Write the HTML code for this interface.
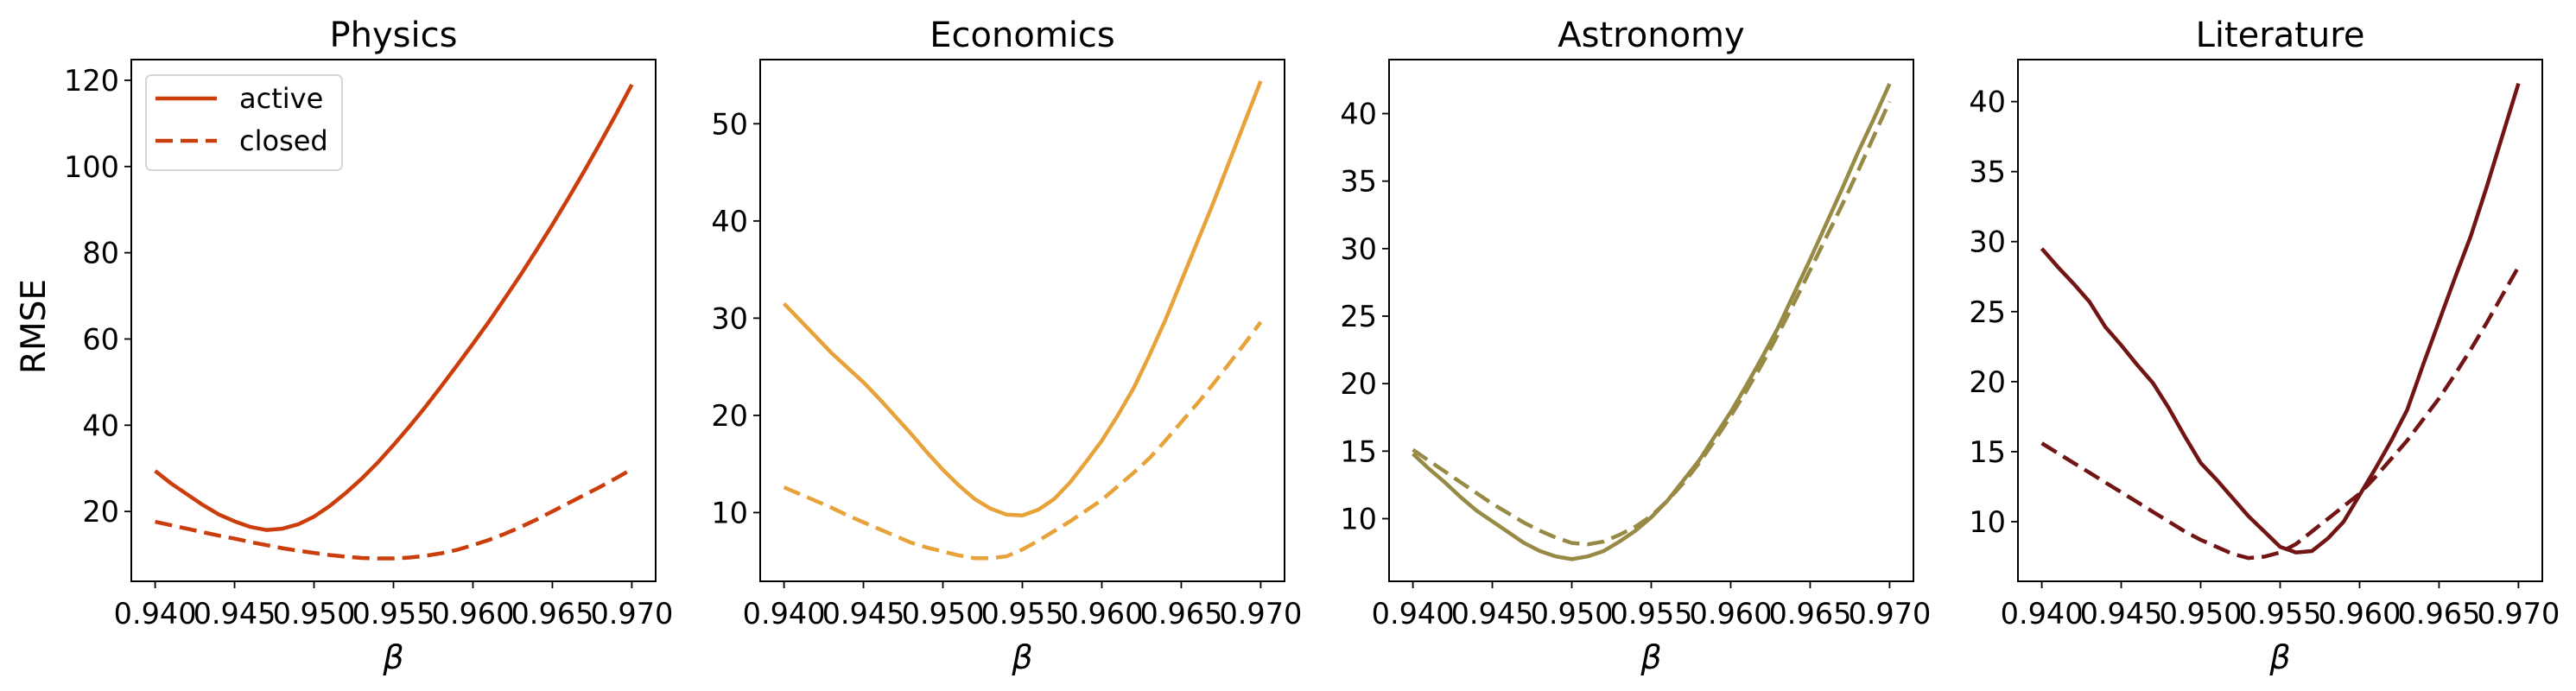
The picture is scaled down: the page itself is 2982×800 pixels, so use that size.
<!DOCTYPE html>
<html><head><meta charset="utf-8"><style>
html,body{margin:0;padding:0;background:#fff;}
svg{display:block;font-family:"DejaVu Sans","Liberation Sans",sans-serif;}
</style></head><body>
<svg id="fig" width="2982" height="800" viewBox="0 0 2982 800"></svg>
<script>
const betaValues = [0.940,0.941,0.942,0.943,0.944,0.945,0.946,0.947,0.948,0.949,0.950,0.951,0.952,0.953,0.954,0.955,0.956,0.957,0.958,0.959,0.960,0.961,0.962,0.963,0.964,0.965,0.966,0.967,0.968,0.969,0.970];
const xTickValues = [0.940,0.945,0.950,0.955,0.960,0.965,0.970];
const xTickLabels = ["0.940","0.945","0.950","0.955","0.960","0.965","0.970"];
const panelTitles = ["Physics","Economics","Astronomy","Literature"];
const physicsActive = [29.4,26.5,24,21.5,19.3,17.7,16.4,15.7,16,17,18.8,21.3,24.3,27.6,31.3,35.4,39.7,44.2,49,53.9,58.9,64,69.4,74.9,80.6,86.5,92.6,98.9,105.4,112.1,119];
const physicsClosed = [17.6,16.8,16.0,15.2,14.4,13.7,12.9,12.2,11.5,10.9,10.4,9.9,9.5,9.2,9.1,9.1,9.3,9.7,10.3,11.1,12.2,13.4,14.8,16.4,18.1,20.0,21.9,23.8,25.7,27.7,29.8];
const economicsActive = [31.5,29.8,28.1,26.4,24.9,23.4,21.7,19.9,18.1,16.2,14.4,12.8,11.4,10.4,9.8,9.7,10.3,11.4,13.1,15.2,17.4,20.0,22.8,26.2,29.8,33.8,37.8,41.8,46.0,50.2,54.4];
const economicsClosed = [12.6,11.9,11.2,10.5,9.7,9.0,8.3,7.6,6.9,6.4,6.0,5.6,5.3,5.3,5.5,6.2,7.1,8.1,9.1,10.2,11.3,12.7,14.1,15.6,17.4,19.3,21.2,23.2,25.3,27.4,29.6];
const astronomyActive = [14.8,13.7,12.7,11.6,10.6,9.8,9.0,8.2,7.6,7.2,7.0,7.2,7.6,8.3,9.1,10.1,11.3,12.8,14.3,16.1,17.9,19.9,22.0,24.2,26.7,29.2,31.8,34.4,37.1,39.6,42.2];
const astronomyClosed = [15.1,14.3,13.5,12.7,11.9,11.1,10.4,9.7,9.1,8.6,8.2,8.1,8.3,8.8,9.4,10.2,11.3,12.6,14.1,15.8,17.6,19.5,21.5,23.7,26.0,28.4,30.8,33.2,35.7,38.3,40.9];
const literatureActive = [29.5,28.2,27.0,25.7,23.9,22.6,21.2,19.9,18.1,16.1,14.2,13.0,11.7,10.4,9.3,8.2,7.8,7.9,8.8,10.0,11.9,13.8,15.8,18.0,21.2,24.3,27.4,30.4,33.9,37.6,41.3];
const literatureClosed = [15.6,14.9,14.2,13.5,12.8,12.1,11.4,10.7,10.0,9.3,8.7,8.2,7.7,7.4,7.5,7.8,8.4,9.3,10.2,11.1,12.0,13.2,14.5,15.8,17.3,18.8,20.5,22.3,24.2,26.2,28.2];
const physicsYTicks = [20,40,60,80,100,120];
const economicsYTicks = [10,20,30,40,50];
const astronomyYTicks = [10,15,20,25,30,35,40];
const literatureYTicks = [10,15,20,25,30,35,40];

const NS = "http://www.w3.org/2000/svg";
const fig = document.getElementById('fig');
function mk(tag, attrs, parent){const e=document.createElementNS(NS,tag);for(const k in attrs)e.setAttribute(k,attrs[k]);(parent||fig).appendChild(e);return e;}

const panels = [
 {left:152,right:759,ymin:3.8,ymax:124.8,color:"#cc3d0c",act:physicsActive,clo:physicsClosed,ticks:physicsYTicks,key:"physics"},
 {left:880,right:1487,ymin:2.93,ymax:56.6,color:"#e8a23a",act:economicsActive,clo:economicsClosed,ticks:economicsYTicks,key:"economics"},
 {left:1608,right:2215,ymin:5.36,ymax:44.0,color:"#968a44",act:astronomyActive,clo:astronomyClosed,ticks:astronomyYTicks,key:"astronomy"},
 {left:2336,right:2943,ymin:5.74,ymax:43.0,color:"#721414",act:literatureActive,clo:literatureClosed,ticks:literatureYTicks,key:"literature"}
];
const TOP=69, BOT=673, XMIN=0.9385, XMAX=0.9715;

panels.forEach((p,i)=>{
  const g = mk('g',{});
  
  
  const xs = v => p.left + (v-XMIN)/(XMAX-XMIN)*(p.right-p.left);
  const ys = v => BOT - (v-p.ymin)/(p.ymax-p.ymin)*(BOT-TOP);
  const frame = mk('rect',{x:p.left,y:TOP,width:p.right-p.left,height:BOT-TOP,fill:'none',stroke:'#000','stroke-width':2},g);
  
  
  const t = mk('text',{x:(p.left+p.right)/2,y:54,'text-anchor':'middle','font-size':40,fill:'#000'},g);
  t.textContent = panelTitles[i];
  
  
  xTickValues.forEach((v,j)=>{
    const x=xs(v);
    mk('line',{x1:x,x2:x,y1:BOT,y2:BOT+8,stroke:'#000','stroke-width':1.8},g);
    const tl = mk('text',{x:x,y:722,'text-anchor':'middle','font-size':33.5,fill:'#000'},g);
    tl.textContent = xTickLabels[j];
    
    
  });
  p.ticks.forEach(v=>{
    const y=ys(v);
    mk('line',{x1:p.left-8,x2:p.left,y1:y,y2:y,stroke:'#000','stroke-width':1.8},g);
    const tl = mk('text',{x:p.left-14,y:y+12,'text-anchor':'end','font-size':33.5,fill:'#000'},g);
    tl.textContent = String(v);
    
    
  });
  const xl = mk('text',{x:(p.left+p.right)/2,y:774,'text-anchor':'middle','font-size':38,'font-style':'italic',fill:'#000'},g);
  xl.textContent = 'β';
  
  
  const pts = arr => arr.map((v,k)=>xs(betaValues[k]).toFixed(1)+','+ys(v).toFixed(1)).join(' ');
  const la = mk('polyline',{points:pts(p.act),fill:'none',stroke:p.color,'stroke-width':4.5,'stroke-linejoin':'round'},g);
  
  
  const lc = mk('polyline',{points:pts(p.clo),fill:'none',stroke:p.color,'stroke-width':4.5,'stroke-dasharray':'20,9'},g);
  
  
});

const yl = mk('text',{x:0,y:0,'text-anchor':'middle','font-size':39,fill:'#000',transform:'translate(52,378) rotate(-90)'});
yl.textContent = 'RMSE';



const lg = mk('g',{});


mk('rect',{x:169,y:87,width:227,height:110,rx:6,fill:'#fff','fill-opacity':0.8,stroke:'#d6d6d6','stroke-width':2},lg);
mk('line',{x1:180,x2:251,y1:114,y2:114,stroke:'#cc3d0c','stroke-width':4.5},lg);
mk('line',{x1:180,x2:251,y1:163,y2:163,stroke:'#cc3d0c','stroke-width':4.5,'stroke-dasharray':'20,9'},lg);
const e1 = mk('text',{x:277,y:125,'font-size':32,fill:'#000'},lg);
e1.textContent='active';


const e2 = mk('text',{x:277,y:174,'font-size':32,fill:'#000'},lg);
e2.textContent='closed';


</script>
</body></html>
